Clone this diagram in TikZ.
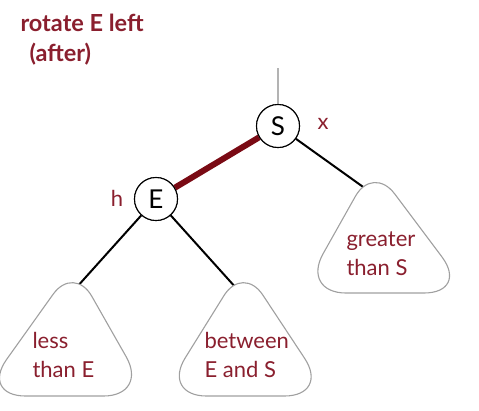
\documentclass[tikz,border=0pt]{standalone}
\usepackage{fontspec}
\setmainfont{Lato}
\usetikzlibrary{calc}
\definecolor{lbl}{HTML}{8A1F2E}
\definecolor{redlink}{HTML}{7A0A14}
\definecolor{sub}{HTML}{A0A0A0}
\newcommand\subtreeshape[5]{% name, c, a, T, B
  \coordinate (#1-t) at (#3,{#4-18});
  \coordinate (#1-r) at ({#2+84},#5);
  \coordinate (#1-l) at ({#2-84},#5);
  \path[tree] ($(#1-l)!45pt!(#1-r)$) -- ($(#1-r)!45pt!(#1-l)$)
    .. controls ($(#1-r)!20pt!(#1-l)$) and ($(#1-r)!20pt!(#1-t)$) .. ($(#1-r)!45pt!(#1-t)$)
    -- ($(#1-t)!36pt!(#1-r)$)
    .. controls ($(#1-t)!16pt!(#1-r)$) and ($(#1-t)!16pt!(#1-l)$) .. ($(#1-t)!36pt!(#1-l)$)
    -- ($(#1-l)!45pt!(#1-t)$)
    .. controls ($(#1-l)!20pt!(#1-t)$) and ($(#1-l)!20pt!(#1-r)$) .. ($(#1-l)!45pt!(#1-r)$) -- cycle;}
\begin{document}
\begin{tikzpicture}[x=1pt,y=-1pt,
  keynode/.style={circle,draw=black,line width=1.1pt,minimum size=43pt,inner sep=0pt,font=\fontsize{26}{26}\selectfont,fill=white},
  lab/.style={text=lbl,font=\fontsize{22}{29}\selectfont,align=left},
  tree/.style={draw=sub,line width=1.1pt,fill=white},
  blink/.style={draw=black,line width=2pt},
  rlink/.style={draw=redlink,line width=6pt}]
\useasboundingbox (0,0) rectangle (479,410);
% title
\node[anchor=west,text=lbl,font=\bfseries\fontsize{23.5}{27}\selectfont] (t1) at (17,23) {rotate E left};
\node[anchor=west,text=lbl,font=\bfseries\fontsize{23.5}{27}\selectfont] (t2) at (26,54) {(after)};
% nodes
\node[keynode] (S) at (278,126) {S};
\node[keynode] (E) at (156,199) {E};
\coordinate (lt) at (76,288);
\coordinate (mt) at (237,289);
\coordinate (rt) at (366,189);
\coordinate (top) at (278,68);
% connectors
\draw[draw=sub!80,line width=2.5pt] (top) -- (S);
\draw[rlink] (S) -- (E);
\draw[blink] (S) -- (rt);
\draw[blink] (E) -- (lt);
\draw[blink] (E) -- (mt);
% subtrees
\subtreeshape{less}{64.5}{74}{283}{396}
\subtreeshape{betw}{245.5}{243}{283}{396}
\subtreeshape{grt}{385}{373}{183}{293}
\node[keynode] at (S) {S};
\node[keynode] at (E) {E};
\node[lab] (x) at (323,124) {x};
\node[lab] (h) at (117,198) {h};
% labels
\node[lab,anchor=west] (l1) at (29,355) {less\\than E};
\node[lab,anchor=west] (l2) at (201,355) {between\\E and S};
\node[lab,anchor=west] (l3) at (343,254) {greater\\than S};
\end{tikzpicture}
\end{document}
